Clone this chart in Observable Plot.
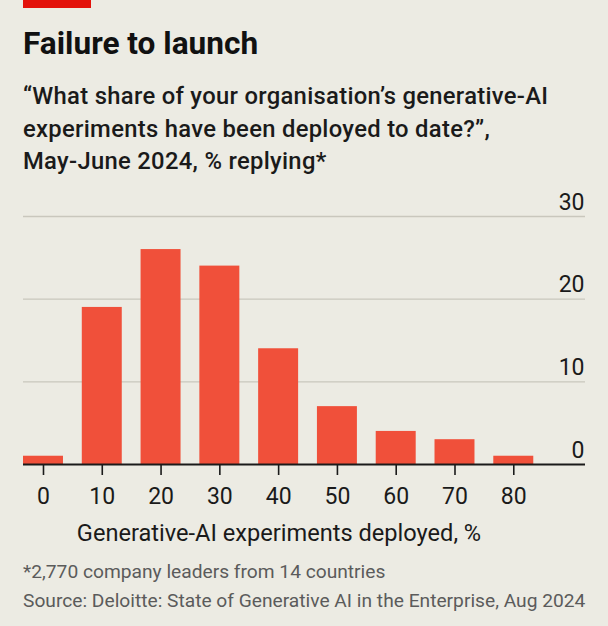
<!DOCTYPE html>
<html><head><meta charset="utf-8">
<script src="https://cdn.jsdelivr.net/npm/d3@7"></script>
<script src="https://cdn.jsdelivr.net/npm/@observablehq/plot@0.6"></script>
<style>
html,body{margin:0;padding:0;background:#ecebe3;}
body{width:608px;height:626px;position:relative;overflow:hidden;font-family:Roboto,"Liberation Sans",sans-serif;color:#1a1a1a;}
#redbar{position:absolute;left:23px;top:0;width:68px;height:8px;background:#e3120b;}
#title{position:absolute;left:23px;top:26px;font-size:31.6px;font-weight:700;line-height:36px;white-space:nowrap;color:#111;}
#subtitle{position:absolute;left:23px;top:80px;font-size:23.8px;font-weight:500;line-height:32.5px;white-space:nowrap;letter-spacing:0.3px;}
#chart{position:absolute;left:0;top:180px;}
#foot{position:absolute;left:23px;top:557px;font-size:19.2px;line-height:29px;color:#5b5b5b;white-space:nowrap;}
</style></head>
<body>
<div id="redbar"></div>
<div id="title">Failure to launch</div>
<div id="subtitle">“What share of your organisation’s generative-AI<br>experiments have been deployed to date?”,<br>May-June 2024, % replying*</div>
<div id="chart"></div>
<div id="foot">*2,770 company leaders from 14 countries<br>Source: Deloitte: State of Generative AI in the Enterprise, Aug 2024</div>
<script>
const categories = [0, 10, 20, 30, 40, 50, 60, 70, 80];
const shares = [1, 19, 26, 24, 14, 7, 4, 3, 1];
const yTicks = [0, 10, 20, 30];
const xLabel = "Generative-AI experiments deployed, %";

const data = categories.map((c, i) => ({deployed: c, share: shares[i]}));
const font = getComputedStyle(document.body).fontFamily;

const chart = Plot.plot({
  width: 608,
  height: 375,
  marginLeft: 23,
  marginRight: 23,
  marginTop: 36,
  marginBottom: 91,
  style: {background: "transparent", fontFamily: font, fontSize: "23px", color: "#1a1a1a", overflow: "visible"},
  x: {type: "band", domain: categories, paddingInner: 0.32, paddingOuter: 0.44, align: 0, round: false, axis: null},
  y: {domain: [0, 30], axis: null},
  marks: [
    Plot.ruleY(yTicks.filter(d => d > 0), {stroke: "#c9c7bd", strokeWidth: 1.3}),
    Plot.barY(data, {x: "deployed", y: "share", fill: "#f0503a"}),
    Plot.ruleY([0], {stroke: "#1a1a1a", strokeWidth: 1.8}),
    Plot.axisX({tickSize: 11, tickPadding: 12, fontSize: 23, strokeWidth: 1.6, label: null}),
    Plot.text(yTicks, {y: d => d, text: d => String(d), frameAnchor: "right", textAnchor: "end", lineAnchor: "bottom", dx: -1, dy: -7, fontSize: 23, fill: "#1a1a1a"}),
    Plot.text([xLabel], {text: d => d, frameAnchor: "bottom", lineAnchor: "bottom", dx: -25.5, dy: 76, fontSize: 23.6, fill: "#1a1a1a"})
  ]
});
document.getElementById("chart").appendChild(chart);
</script>
</body></html>
